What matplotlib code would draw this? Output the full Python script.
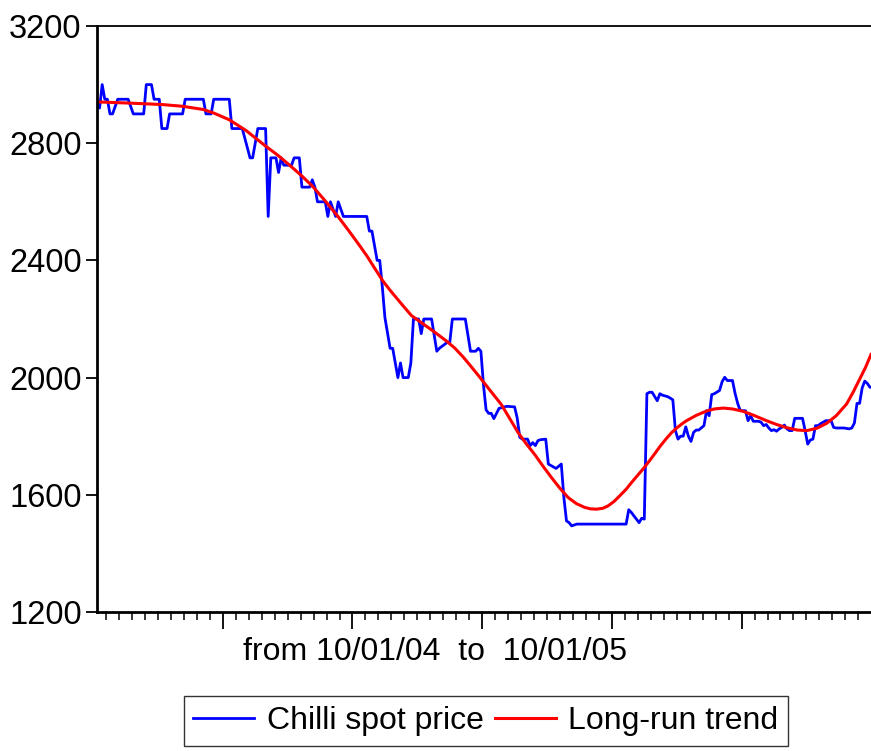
import matplotlib
matplotlib.use("Agg")
import matplotlib.pyplot as plt
from matplotlib.ticker import FixedLocator, NullFormatter

plt.rcParams["font.family"] = ["Liberation Sans", "DejaVu Sans"]

# daily observations, 10/01/04 .. 10/01/05 (index of trading day)
price_obs = [
    0, 1, 2, 3, 4, 5, 6, 8, 12, 14, 18, 19, 21, 22, 24, 25, 27, 28, 33, 34,
    41, 42, 44, 45, 51, 52, 56, 59, 60, 62, 65, 66, 67, 69, 70, 71, 72, 75, 76, 78,
    79, 82, 83, 84, 85, 88, 89, 90, 92, 93, 95, 104, 105, 106, 108, 109, 110, 111, 113, 114,
    116, 117, 118, 120, 121, 122, 124, 125, 126, 129, 131, 132, 135, 136, 137, 142, 144, 146, 147, 148,
    149, 150, 151, 152, 153, 155, 158, 161, 162, 163, 164, 166, 167, 168, 169, 170, 171, 173, 174, 175,
    177, 179, 180, 181, 182, 183, 185, 204, 205, 206, 207, 209, 210, 211, 212, 213, 214, 216, 217, 218,
    220, 221, 222, 223, 224, 225, 226, 227, 228, 229, 230, 231, 232, 234, 235, 236, 237, 238, 240, 241,
    242, 243, 245, 246, 247, 248, 249, 250, 251, 252, 253, 255, 256, 257, 258, 259, 260, 261, 262, 263,
    264, 265, 266, 267, 268, 269, 272, 273, 274, 275, 276, 277, 278, 279, 281, 283, 284, 285, 288, 290,
    291, 292, 293, 294, 295, 296, 297, 298, 299,
]
spot_price = [
    2940, 2920, 3000, 2950, 2950, 2900, 2900, 2950, 2950, 2900, 2900, 3000, 3000, 2950, 2950, 2850, 2850, 2900, 2900, 2950,
    2950, 2900, 2900, 2950, 2950, 2850, 2850, 2750, 2750, 2850, 2850, 2550, 2750, 2750, 2700, 2750, 2725, 2725, 2750, 2750,
    2650, 2650, 2675, 2650, 2600, 2600, 2550, 2600, 2550, 2600, 2550, 2550, 2500, 2500, 2400, 2400, 2310, 2205, 2100, 2100,
    2000, 2050, 2000, 2000, 2050, 2200, 2200, 2150, 2200, 2200, 2090, 2100, 2120, 2120, 2200, 2200, 2090, 2090, 2100, 2090,
    1975, 1890, 1878, 1878, 1860, 1895, 1902, 1900, 1862, 1796, 1790, 1790, 1768, 1778, 1768, 1785, 1788, 1790, 1705, 1700,
    1690, 1705, 1590, 1511, 1505, 1494, 1500, 1500, 1549, 1540, 1528, 1505, 1520, 1517, 1945, 1950, 1950, 1921, 1945, 1940,
    1935, 1930, 1924, 1819, 1790, 1800, 1800, 1832, 1800, 1782, 1813, 1821, 1821, 1836, 1887, 1870, 1942, 1945, 1956, 1986,
    2001, 1990, 1990, 1946, 1912, 1887, 1887, 1887, 1853, 1870, 1851, 1851, 1848, 1836, 1840, 1828, 1819, 1822, 1817, 1825,
    1830, 1838, 1825, 1819, 1819, 1861, 1861, 1819, 1773, 1787, 1790, 1836, 1836, 1843, 1853, 1853, 1830, 1828, 1828, 1825,
    1828, 1845, 1912, 1912, 1965, 1988, 1980, 1967, 1967,
]

trend_obs = [
    0, 12, 25, 33, 41, 45, 51, 57.5, 64.6, 70, 74.9, 79, 83.2, 88, 92.9, 97, 101.2, 104, 107, 110.2,
    113, 117.9, 121.2, 125, 130.2, 134.7, 137.9, 141.1, 144.3, 147.5, 151.4, 155.9, 159, 162.3, 165.5, 168.8, 172, 175.2, 178.4, 181.6,
    184.8, 188, 190.3, 192.6, 195, 197, 199.3, 201.7, 204, 206, 208, 210.5, 213, 215, 217.3, 219.6, 221.5, 223.5, 225.5, 227.3,
    231, 235, 238, 241.4, 245, 249.1, 253, 258.1, 262, 265.9, 270, 273.6, 277.5, 281.3, 285, 289, 291.5, 294.1, 296.3, 298.4,
]
trend_price = [
    2941, 2937, 2932, 2926, 2915, 2903, 2880, 2843, 2793, 2757, 2720, 2688, 2652, 2603, 2550, 2502, 2451, 2416, 2374, 2330,
    2298, 2246, 2212, 2188, 2155, 2125, 2101, 2071, 2037, 2002, 1958, 1908, 1862, 1813, 1774, 1737, 1697, 1659, 1623, 1591,
    1570, 1557, 1552, 1551, 1554, 1562, 1577, 1598, 1619, 1641, 1662, 1688, 1716, 1740, 1768, 1793, 1812, 1828, 1842, 1853,
    1871, 1886, 1893, 1896, 1893, 1885, 1872, 1853, 1840, 1829, 1821, 1819, 1827, 1844, 1870, 1910, 1950, 1996, 2035, 2079,
]

y_ticks = [1200, 1600, 2000, 2400, 2800, 3200]
x_label = "from 10/01/04  to  10/01/05"

fig = plt.figure(figsize=(8.71, 7.51), dpi=100)
ax = fig.add_axes([97 / 871, 139 / 751, 774 / 871, 586 / 751])

ax.plot(price_obs, spot_price, color="#0000ff", linewidth=2.0, label="Chilli spot price")
ax.plot(trend_obs, trend_price, color="#ff0000", linewidth=2.2, label="Long-run trend")

ax.set_xlim(0, 298.4)
ax.set_ylim(1200, 3200)
ax.set_yticks(y_ticks)
ax.set_yticklabels([str(v) for v in y_ticks])
ax.tick_params(axis="y", direction="out", length=8, width=1.3, labelsize=23.5, pad=3)

ax.xaxis.set_major_locator(FixedLocator([48.5 + 50 * k for k in range(5)]))
ax.xaxis.set_minor_locator(FixedLocator([3.5 + 5 * k for k in range(60)]))
ax.xaxis.set_major_formatter(NullFormatter())
ax.tick_params(axis="x", which="major", direction="out", length=12, width=1.3)
ax.tick_params(axis="x", which="minor", direction="out", length=6, width=1.1)

ax.spines["right"].set_visible(False)
ax.spines["left"].set_linewidth(2)
ax.spines["bottom"].set_linewidth(2)
ax.spines["top"].set_linewidth(1.3)

fig.text(435 / 871, 1 - 652 / 751, x_label, ha="center", va="center", fontsize=23)

leg = fig.legend(loc="center", bbox_to_anchor=(486 / 871, 1 - 721 / 751), ncol=2,
                 fontsize=23, frameon=True, fancybox=False, handlelength=1.9,
                 handletextpad=0.4, columnspacing=0.35, borderpad=0.3, borderaxespad=0.2)
leg.get_frame().set_edgecolor("black")
leg.get_frame().set_linewidth(1.0)

fig.savefig("out.png", dpi=100)
